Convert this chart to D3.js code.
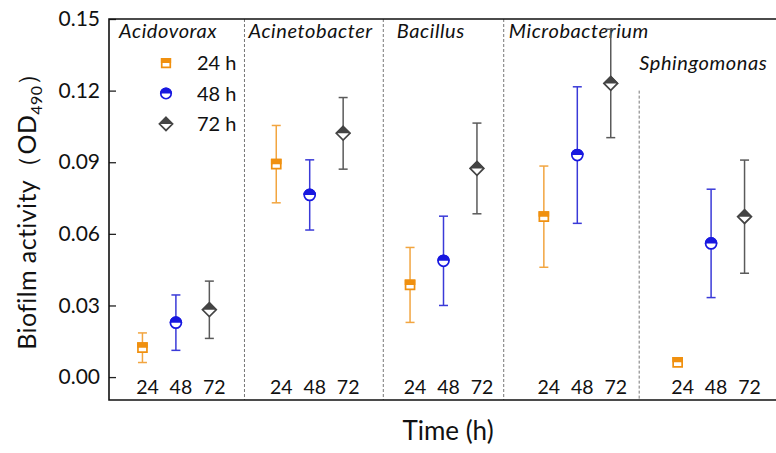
<!DOCTYPE html>
<html>
<head>
<meta charset="utf-8">
<script src="https://cdn.jsdelivr.net/npm/d3@7"></script>
<style>
  body { margin: 0; background: #fff; }
  svg { font-family: Lato, "Open Sans", sans-serif; }
</style>
</head>
<body>
<svg id="chart" width="776" height="453"></svg>
<script>
// genera shown in each panel
const categories = ["Acidovorax", "Acinetobacter", "Bacillus", "Microbacterium", "Sphingomonas"];
const timeLabels = ["24", "48", "72"];
const legendLabels = ["24 h", "48 h", "72 h"];

// mean OD490 and error per time point
const mean24 = [0.0123, 0.0892, 0.0386, 0.0672, 0.0062];
const err24  = [0.0062, 0.0162, 0.0157, 0.0212, 0.0];
const mean48 = [0.0228, 0.0763, 0.0487, 0.0930, 0.0560];
const err48  = [0.0116, 0.0147, 0.0187, 0.0286, 0.0227];
const mean72 = [0.0282, 0.1021, 0.0874, 0.1230, 0.0672];
const err72  = [0.0120, 0.0150, 0.0190, 0.0227, 0.0237];

const yTicks = [0, 0.03, 0.06, 0.09, 0.12, 0.15];
// panel dividers (x in slot units) and how high they reach
const dividerX = [3.05, 7.2, 10.8, 14.85];
const dividerTop = [0.15, 0.15, 0.15, 0.12];

const colors = ["#f0900f", "#1818e0", "#444444"];
const barColors = ["#f2a540", "#3a3ad8", "#5a5a5a"];
const shapes = ["square", "circle", "diamond"];

const series = [
    {mean: mean24, err: err24},
    {mean: mean48, err: err48},
    {mean: mean72, err: err72}
];

const svg = d3.select("#chart");
const plotLeft = 109, plotRight = 778, plotTop = 19, plotBottom = 400;

const x = d3.scaleLinear().domain([-1, 19]).range([plotLeft, plotRight]);
const y = d3.scaleLinear().domain([-0.0096, 0.15]).range([plotBottom, plotTop]);

// clip that keeps only the upper half of a marker
svg.append("defs").append("clipPath")
    .attr("id", "upperHalf")
    .append("rect")
    .attr("x", -12).attr("y", -12).attr("width", 24).attr("height", 12);

function shapePath(shape, s) {
    if (shape === "square") {
        return `M${-s},${-s}H${s}V${s}H${-s}Z`;
    } else if (shape === "circle") {
        return `M${-s},0A${s},${s} 0 1,0 ${s},0A${s},${s} 0 1,0 ${-s},0Z`;
    }
    return `M0,${-s}L${s},0L0,${s}L${-s},0Z`;
}

function drawMarker(g, i, scale) {
    const sizes = [4.5, 5.5, 6.8];
    const s = sizes[i] * scale;
    g.append("path")
        .attr("d", shapePath(shapes[i], s))
        .attr("fill", "#fff")
        .attr("stroke", colors[i])
        .attr("stroke-width", 1.7);
    g.append("path")
        .attr("d", shapePath(shapes[i], s))
        .attr("fill", colors[i])
        .attr("stroke", colors[i])
        .attr("stroke-width", 1.7)
        .attr("clip-path", "url(#upperHalf)");
}

// panel dividers
svg.append("g")
    .selectAll("line")
    .data(dividerX)
    .enter().append("line")
    .attr("x1", d => x(d)).attr("x2", d => x(d))
    .attr("y1", (d, i) => y(dividerTop[i]))
    .attr("y2", plotBottom)
    .attr("stroke", "#777")
    .attr("stroke-width", 1)
    .attr("stroke-dasharray", "3,2");

// y axis with inward ticks
const yAxis = svg.append("g")
    .attr("transform", `translate(${plotLeft},0)`)
    .call(d3.axisLeft(y).tickValues(yTicks).tickFormat(d3.format(".2f"))
        .tickSizeInner(-7).tickSizeOuter(0).tickPadding(9));
yAxis.select(".domain").remove();
yAxis.selectAll(".tick line").attr("stroke", "#222").attr("stroke-width", 1.3);
yAxis.selectAll(".tick text")
    .attr("font-size", 21)
    .attr("fill", "#111")
    .attr("font-family", "Lato, sans-serif");

// frame: left, top, bottom
svg.append("path")
    .attr("d", `M${plotRight},${plotTop}H${plotLeft}V${plotBottom}H${plotRight}`)
    .attr("fill", "none")
    .attr("stroke", "#111")
    .attr("stroke-width", 1.6);

// x tick labels inside each panel
const tickData = [];
categories.forEach((c, gi) => {
    timeLabels.forEach((t, si) => tickData.push({pos: gi * 4 + si, label: t}));
});
svg.append("g")
    .selectAll("text")
    .data(tickData)
    .enter().append("text")
    .attr("x", d => x(d.pos) + 5)
    .attr("y", 394)
    .attr("text-anchor", "middle")
    .attr("font-size", 19.5)
    .attr("fill", "#111")
    .text(d => d.label);

// genus names
const labelY = [38, 38, 38, 38, 70];
const labelX = [-0.7, 3.17, 7.6, 10.95, 14.85];
svg.append("g")
    .selectAll("text")
    .data(categories)
    .enter().append("text")
    .attr("x", (d, i) => x(labelX[i]))
    .attr("y", (d, i) => labelY[i])
    .attr("font-size", 20)
    .attr("letter-spacing", 0.6)
    .attr("font-style", "italic")
    .attr("fill", "#111")
    .text(d => d);

// error bars and markers
series.forEach((s, si) => {
    const g = svg.append("g");
    categories.forEach((c, gi) => {
        const px = x(gi * 4 + si);
        const hi = y(s.mean[gi] + s.err[gi]);
        const lo = y(s.mean[gi] - s.err[gi]);
        if (s.err[gi] > 0) {
            g.append("line")
                .attr("x1", px).attr("x2", px).attr("y1", hi).attr("y2", lo)
                .attr("stroke", barColors[si]).attr("stroke-width", 1.5);
            [hi, lo].forEach(v => {
                g.append("line")
                    .attr("x1", px - 4.5).attr("x2", px + 4.5)
                    .attr("y1", v).attr("y2", v)
                    .attr("stroke", barColors[si]).attr("stroke-width", 1.5);
            });
        }
        const m = g.append("g").attr("transform", `translate(${px},${y(s.mean[gi])})`);
        drawMarker(m, si, 1);
    });
});

// legend
const legend = svg.append("g");
legendLabels.forEach((l, i) => {
    const ly = 63 + i * 30.5;
    const m = legend.append("g").attr("transform", `translate(166,${ly})`);
    drawMarker(m, i, 0.95);
    legend.append("text")
        .attr("x", 197).attr("y", ly + 7)
        .attr("font-size", 20)
        .attr("fill", "#111")
        .text(l);
});

// axis titles
svg.append("text")
    .attr("x", 448).attr("y", 440)
    .attr("text-anchor", "middle")
    .attr("font-size", 26)
    .attr("fill", "#111")
    .text("Time (h)");

const yTitle = svg.append("text")
    .attr("transform", "translate(36,205) rotate(-90)")
    .attr("text-anchor", "middle")
    .attr("font-size", 25)
    .attr("letter-spacing", 0.4)
    .attr("fill", "#111");
yTitle.append("tspan").text("Biofilm activity（OD");
yTitle.append("tspan").attr("font-size", 16).attr("dy", 6).text("490");
yTitle.append("tspan").attr("dy", -6).text("）");
</script>
</body>
</html>
